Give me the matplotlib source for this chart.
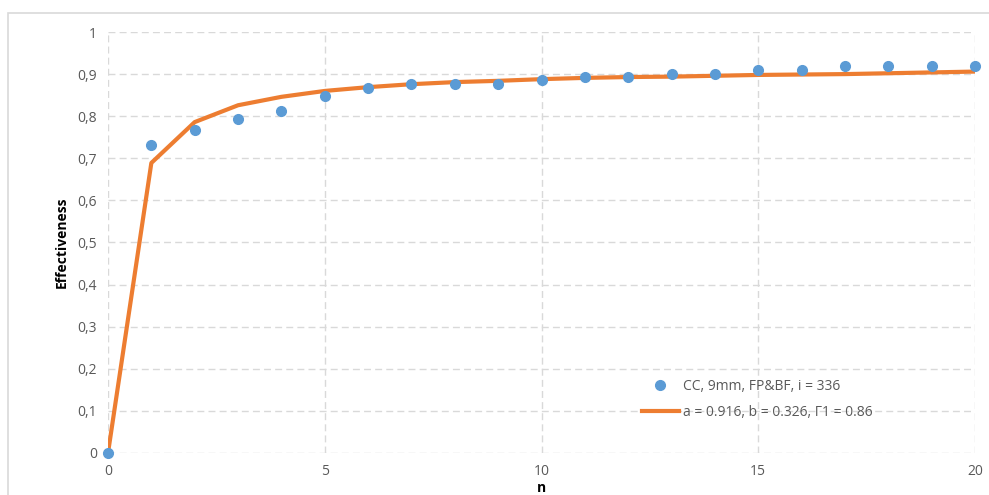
import matplotlib.pyplot as plt
from matplotlib.patches import Rectangle
from matplotlib.ticker import FuncFormatter, MultipleLocator

# measured effectiveness per n
n_points = list(range(21))
eff_measured = [0.0, 0.731, 0.767, 0.793, 0.812, 0.848, 0.866, 0.876, 0.876,
                0.876, 0.885, 0.893, 0.893, 0.900, 0.900, 0.910, 0.910,
                0.919, 0.919, 0.919, 0.920]

# fitted curve
eff_fit = [0.0, 0.689, 0.786, 0.826, 0.846, 0.860, 0.869, 0.876, 0.881,
           0.884, 0.888, 0.891, 0.893, 0.894, 0.896, 0.898, 0.899, 0.900,
           0.902, 0.904, 0.906]

label_points = "CC, 9mm, FP&BF, i = 336"
label_fit = "a = 0.916, b = 0.326, Γ1 = 0.86"

plt.rcParams['font.family'] = ['Open Sans', 'DejaVu Sans']

fig = plt.figure(figsize=(9.89, 4.95), dpi=100)
# outer chart frame, as in the spreadsheet export
fig.patches.append(Rectangle((8 / 989, -0.01), 1.0, 1 - 13 / 495 + 0.01,
                             transform=fig.transFigure, fill=False,
                             edgecolor='#d9d9d9', linewidth=1.2))

ax = fig.add_axes([108 / 989, 1 - 453 / 495, (975 - 108) / 989,
                   (453 - 32) / 495])

ax.plot(n_points, eff_fit, color='#ED7D31', linewidth=3, label=label_fit,
        zorder=3)
ax.plot(n_points, eff_measured, 'o', color='#5B9BD5', markersize=7,
        label=label_points, zorder=4, clip_on=False)

ax.set_xlim(0, 20)
ax.set_ylim(0, 1)
ax.xaxis.set_major_locator(MultipleLocator(5))
ax.yaxis.set_major_locator(MultipleLocator(0.1))
ax.yaxis.set_major_formatter(
    FuncFormatter(lambda v, _: "0" if abs(v) < 1e-9 else
                  ("1" if abs(v - 1) < 1e-9 else f"{v:.1f}".replace('.', ','))))
ax.grid(True, color='#d9d9d9', linestyle=(0, (5, 3)), linewidth=1)
ax.set_axisbelow(True)
for spine in ax.spines.values():
    spine.set_visible(False)
ax.tick_params(length=0, labelsize=10, colors='#595959', pad=8)

ax.set_ylabel("Effectiveness", fontsize=10, fontweight='bold', labelpad=6)
ax.set_xlabel("n", fontsize=10, fontweight='bold', labelpad=1)

handles, labels = ax.get_legend_handles_labels()
ax.legend(handles[::-1], labels[::-1], loc='center left',
          bbox_to_anchor=(0.602, 0.128), frameon=False, fontsize=10,
          labelcolor='#595959', handlelength=2.6, handletextpad=0.3,
          labelspacing=0.8)

fig.savefig("out.png", dpi=100)
